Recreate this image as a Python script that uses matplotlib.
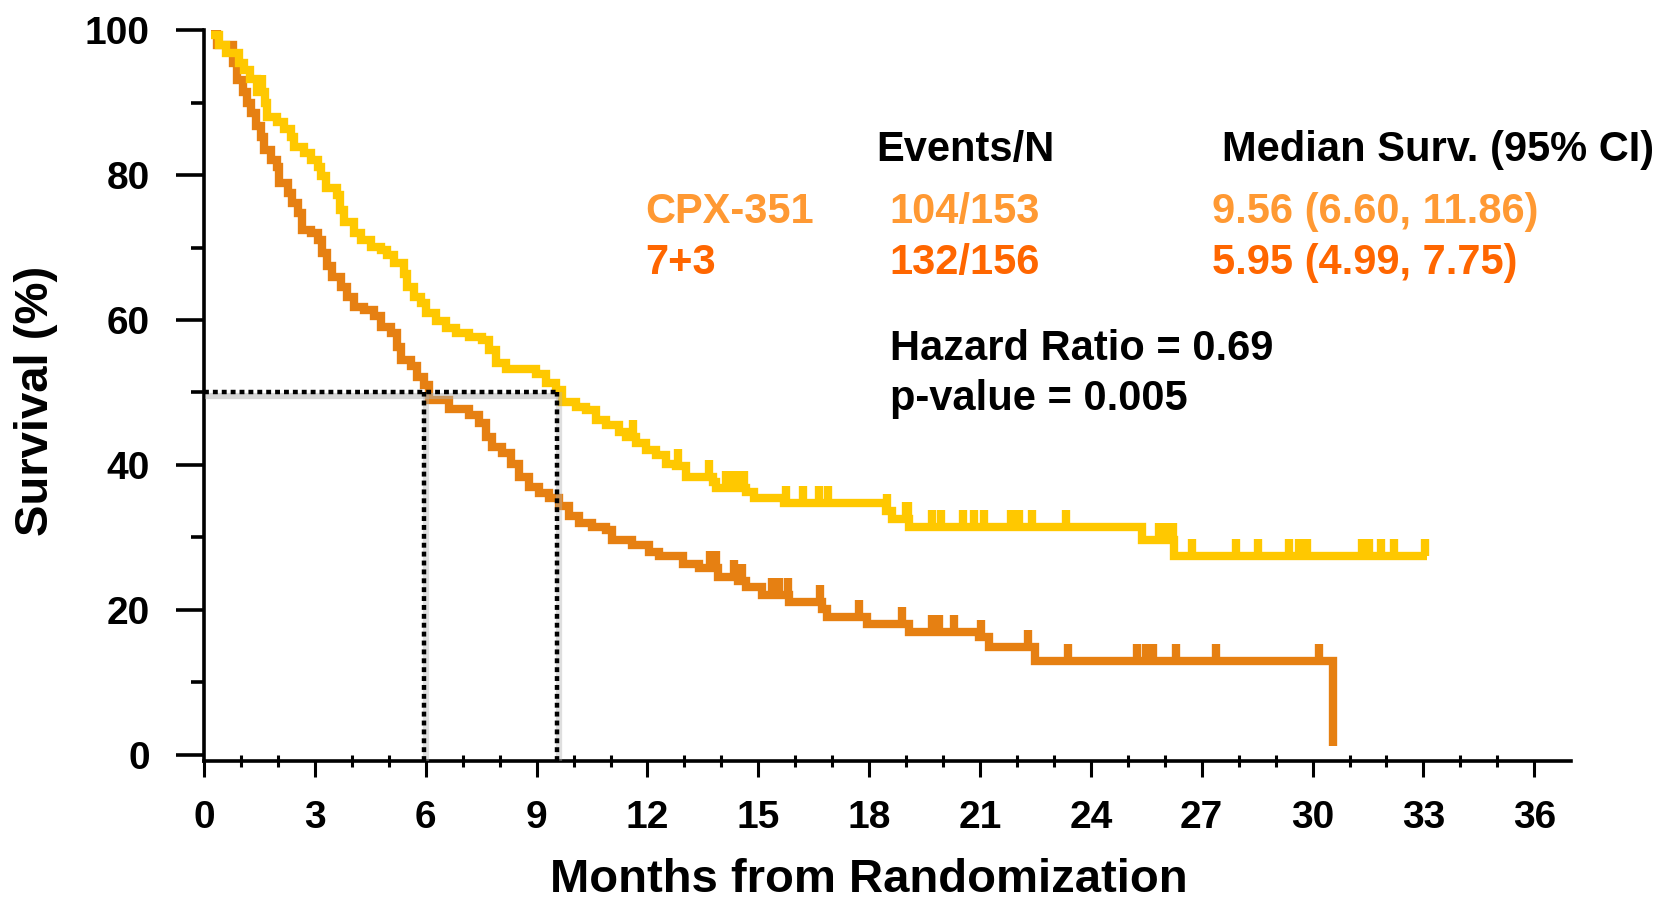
import numpy as np
import matplotlib.pyplot as plt
from matplotlib.path import Path
from matplotlib.transforms import offset_copy

plt.rcParams['font.family'] = ['Liberation Sans', 'DejaVu Sans']
plt.rcParams['font.weight'] = 'bold'

# CPX-351 arm: time of each step (months) and survival (%) from that time on
cpx_t = [0.18, 0.41, 0.59, 0.95, 1.08, 1.25, 1.42, 1.65, 1.71, 1.98,
         2.17, 2.35, 2.44, 2.71, 2.89, 3.07, 3.16, 3.30, 3.61, 3.68,
         3.79, 4.06, 4.24, 4.51, 4.78, 4.96, 5.14, 5.41, 5.50, 5.68,
         5.86, 6.00, 6.27, 6.54, 6.81, 7.17, 7.53, 7.71, 7.89, 8.16,
         8.98, 9.25, 9.52, 9.70, 10.06, 10.33, 10.60, 10.87, 11.23, 11.41,
         11.68, 11.95, 12.22, 12.50, 12.77, 13.04, 13.76, 13.85, 14.66, 14.89,
         15.70, 18.45, 18.63, 19.08, 25.39, 26.25, 33.10]
cpx_s = [99.3, 97.9, 96.8, 95.5, 94.5, 93.3, 91.5, 89.9, 88.0, 87.3,
         86.4, 85.3, 83.9, 83.0, 82.1, 81.1, 79.8, 78.2, 77.2, 75.2,
         73.5, 72.0, 71.0, 70.1, 69.6, 69.0, 67.8, 66.4, 64.6, 63.2,
         62.3, 61.0, 59.8, 58.9, 58.2, 57.7, 57.2, 55.9, 54.0, 53.3,
         52.6, 51.3, 50.3, 48.7, 48.0, 47.6, 46.2, 45.5, 44.6, 43.9,
         43.0, 42.1, 41.4, 40.2, 39.8, 38.4, 37.6, 36.8, 36.3, 35.5,
         34.7, 33.7, 32.5, 31.4, 29.7, 27.5, 27.5]
cpx_cens = [1.58, 11.62, 12.83, 13.66, 14.12, 14.30, 14.48, 14.62, 15.74, 16.22,
            16.64, 16.89, 18.49, 18.99, 19.05, 19.71, 19.94, 20.55, 20.85, 21.11,
            21.83, 22.06, 22.42, 23.34, 25.85, 26.03, 26.21, 26.75, 27.92, 28.51,
            29.36, 29.63, 29.86, 31.35, 31.53, 31.84, 32.20, 33.05]

# 7+3 arm
std_t = [0.18, 0.36, 0.77, 0.90, 1.04, 1.17, 1.26, 1.40, 1.53, 1.62,
         1.80, 1.98, 2.03, 2.26, 2.39, 2.53, 2.66, 2.89, 3.07, 3.20,
         3.34, 3.47, 3.70, 3.88, 4.06, 4.33, 4.60, 4.78, 5.05, 5.23,
         5.32, 5.59, 5.77, 5.95, 6.09, 6.63, 7.17, 7.44, 7.62, 7.80,
         8.07, 8.30, 8.52, 8.79, 9.07, 9.34, 9.61, 9.88, 10.15, 10.51,
         10.87, 11.05, 11.59, 12.04, 12.31, 12.95, 13.40, 13.90, 14.45, 14.66,
         15.11, 15.83, 16.72, 16.85, 17.95, 19.08, 20.96, 21.23, 22.49, 30.54]
std_s = [99.4, 97.9, 95.4, 93.1, 91.5, 89.9, 88.5, 86.7, 85.3, 83.4,
         82.1, 81.1, 78.9, 77.5, 76.1, 74.7, 72.4, 72.0, 71.0, 69.2,
         67.4, 66.0, 64.6, 63.2, 61.8, 61.4, 60.5, 59.1, 58.2, 56.3,
         54.5, 53.6, 52.2, 51.0, 49.0, 47.7, 46.9, 45.8, 43.9, 42.5,
         41.6, 40.2, 38.4, 37.0, 36.1, 35.4, 34.3, 32.9, 32.0, 31.5,
         31.0, 29.7, 29.0, 28.0, 27.4, 26.4, 25.8, 24.6, 24.0, 23.2,
         22.1, 21.1, 20.2, 19.0, 18.0, 17.0, 16.3, 14.9, 13.0, 1.2]
std_cens = [13.68, 13.85, 14.34, 14.55, 15.38, 15.56, 15.79, 16.66, 17.73, 18.90,
            19.71, 19.89, 20.30, 21.02, 22.29, 23.37, 25.26, 25.49, 25.67, 26.30,
            27.38, 30.18]

medians = [5.95, 9.56]
median_level = 50

x_major = np.arange(0, 37, 3)
x_minor = np.arange(0, 37, 1)
y_major = np.arange(0, 101, 20)
y_minor = np.arange(10, 100, 20)

header = ['Events/N', 'Median Surv. (95% CI)']
arms = ['CPX-351', '7+3']
events = ['104/153', '132/156']
median_ci = ['9.56 (6.60, 11.86)', '5.95 (4.99, 7.75)']
stats = ['Hazard Ratio = 0.69', 'p-value = 0.005']

line_colors = ['#FFC800', '#E68012']
text_colors = ['#FF9933', '#FF6600']


def step_value(t, s, x):
    idx = np.searchsorted(t, x, side='right') - 1
    return np.asarray(s)[idx]


fig = plt.figure(figsize=(16.81, 9.02), dpi=100)
ax = fig.add_axes([0.1214, 0.1558, 0.8133, 0.8109])

tick_up = Path([[0, 0], [0, 1]])

curves = [(std_t, std_s, std_cens, line_colors[1]),
          (cpx_t, cpx_s, cpx_cens, line_colors[0])]
for t, s, cens, col in curves:
    ax.plot(t, s, drawstyle='steps-post', color=col, lw=6,
            solid_joinstyle='miter', solid_capstyle='butt', zorder=3)
    ax.plot(cens, step_value(t, s, cens), ls='none', marker=tick_up,
            markersize=25, markeredgewidth=6, color=col, zorder=3)

# median guide lines with a soft grey shadow
ymin = -0.9
dots = [(0, (1.1, 0.9))]
shadow_h = offset_copy(ax.transData, fig=fig, x=1.0, y=-2.5, units='points')
shadow_v = offset_copy(ax.transData, fig=fig, x=1.5, y=0, units='points')
ax.hlines(median_level, 0, max(medians), colors='#b0b0b0', lw=4.5, alpha=0.5,
          transform=shadow_h, zorder=4)
ax.vlines(medians, ymin, median_level, colors='#b0b0b0', lw=4.5, alpha=0.4,
          transform=shadow_v, zorder=4)
ax.hlines(median_level, 0, max(medians), colors='black', lw=3.2,
          linestyles=dots, capstyle='butt', zorder=5)
ax.vlines(medians, ymin, median_level, colors='black', lw=3.2,
          linestyles=dots, capstyle='butt', zorder=5)

ax.set_xlim(0, 37)
ax.set_ylim(ymin, 100)
ax.spines['top'].set_visible(False)
ax.spines['right'].set_visible(False)
for side in ['left', 'bottom']:
    ax.spines[side].set_linewidth(2.6)

ax.set_xticks(x_major)
ax.set_xticks(x_minor, minor=True)
ax.set_yticks(y_major)
ax.set_yticks(y_minor, minor=True)
ax.tick_params(axis='y', which='major', length=20, width=2.6, pad=19, labelsize=28)
ax.tick_params(axis='y', which='minor', length=9.5, width=2.6)
ax.tick_params(axis='x', which='major', length=11.5, width=2.2, pad=16, labelsize=28)
ax.tick_params(axis='x', which='minor', length=8, width=2.2, direction='inout')

fig.text(869 / 1681, 10 / 902, 'Months from Randomization', fontsize=34,
         ha='center', va='baseline')
fig.text(36 / 1681, 1 - 401 / 902, 'Survival (%)', fontsize=34,
         rotation=90, ha='center', va='center')

# annotation table
fs = 30
fig.text(0.521, 0.8218, header[0], fontsize=fs, va='baseline')
fig.text(0.7272, 0.8218, header[1], fontsize=fs, va='baseline')
for i, yb in enumerate([0.7524, 0.6962]):
    fig.text(0.3836, yb, arms[i], fontsize=fs, color=text_colors[i], va='baseline')
    fig.text(0.5292, yb, events[i], fontsize=fs, color=text_colors[i], va='baseline')
    fig.text(0.721, yb, median_ci[i], fontsize=fs, color=text_colors[i], va='baseline')
fig.text(0.5292, 0.6009, stats[0], fontsize=fs, va='baseline')
fig.text(0.5292, 0.5455, stats[1], fontsize=fs, va='baseline')

fig.savefig('out.png', dpi=100)
